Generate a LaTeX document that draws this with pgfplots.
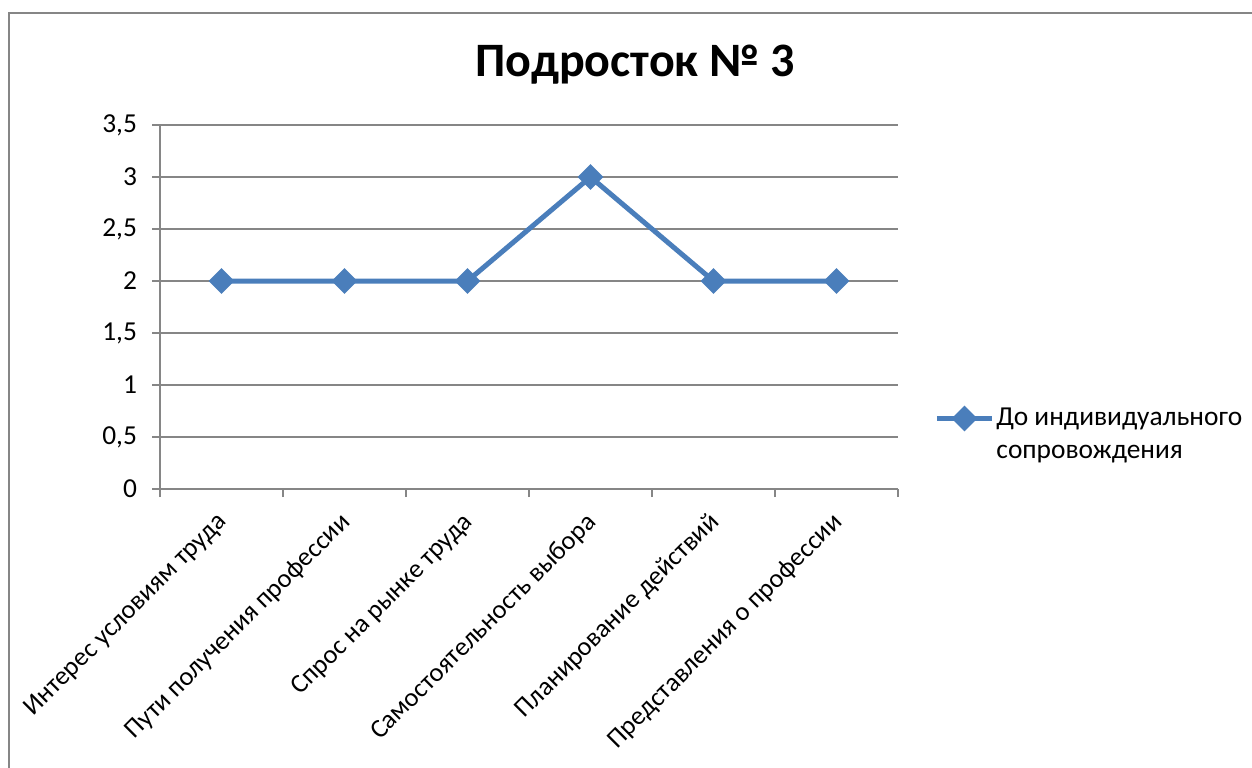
\documentclass[border=0pt]{standalone}
\usepackage{pgfplots}
\pgfplotsset{compat=1.18}
\usepackage{fontspec}
\setmainfont{Carlito}
\definecolor{serie}{HTML}{4A7EBB}
\definecolor{gridc}{HTML}{868686}

\begin{document}
\begin{tikzpicture}
% image is 1252x767 px, 1 px = 0.5pt
\clip (0,0) rectangle (626pt,383.5pt);
\draw[gridc, line width=1pt] (4.5pt,-5pt) -- (4.5pt,377pt) -- (640pt,377pt);
\node[font=\bfseries\fontsize{24}{28}\selectfont, anchor=base] at (317.5pt,345pt) {Подросток № 3};
\begin{axis}[
  at={(80pt,139pt)}, anchor=south west,
  scale only axis, width=369pt, height=182pt,
  xmin=-0.5, xmax=5.5, ymin=0, ymax=3.5,
  axis lines*=left,
  axis line style={gridc, line width=0.75pt},
  xtick={0,...,5},
  xticklabels={Интерес условиям труда, Пути получения профессии, Спрос на рынке труда, Самостоятельность выбора, Планирование действий, Представления о профессии},
  major x tick style={draw=none},
  minor xtick={-0.5,0.5,...,5.5},
  minor x tick style={gridc, line width=0.75pt},
  ytick={0,0.5,...,3.5},
  y tick style={gridc, line width=0.75pt},
  tick align=outside,
  major tick length=4pt, minor tick length=4pt,
  ymajorgrids,
  grid style={gridc, line width=0.75pt},
  /pgf/number format/assume math mode=true,
  /pgf/number format/use comma,
  yticklabel style={font=\fontsize{13.7}{16}\selectfont, xshift=-4pt},
  xticklabel style={font=\fontsize{13.2}{16}\selectfont, xshift=-3pt, yshift=-2pt, rotate=45, anchor=north east},
  legend style={at={(1.0407,0.245)}, anchor=north west, draw=none, fill=none,
    font=\fontsize{13.7}{16}\selectfont, cells={anchor=west}, row sep=4pt,
    nodes={inner xsep=1pt}},
  legend image code/.code={\draw[mark repeat=2,mark phase=2,#1] plot coordinates {(0pt,0pt) (13.75pt,0pt) (27.5pt,0pt)};},
]
\addplot[serie, line width=2.5pt, mark=square*, mark size=3.3pt, mark options={rotate=45, solid}]
  coordinates {(0,2) (1,2) (2,2) (3,3) (4,2) (5,2)};
\addlegendentry{До индивидуального}
\addlegendimage{empty legend}
\addlegendentry{сопровождения}
\end{axis}
\end{tikzpicture}
\end{document}
